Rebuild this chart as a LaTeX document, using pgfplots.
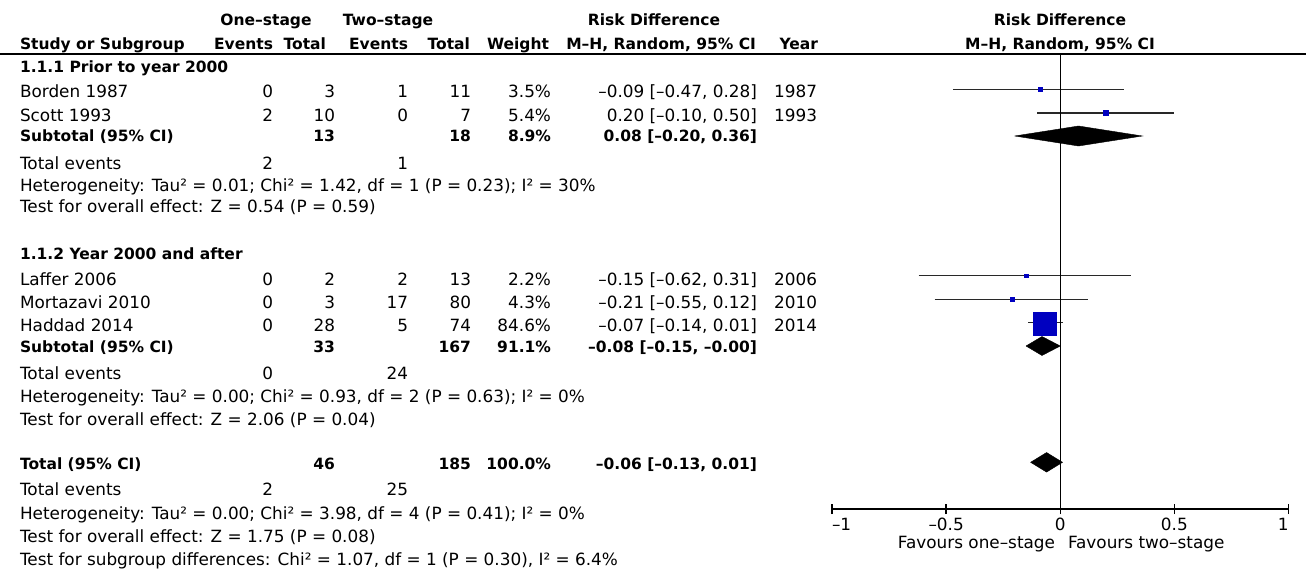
\documentclass[border=0pt]{standalone}
\usepackage{fontspec}
\setmainfont{DejaVu Sans}
\usepackage{pgfplots}
\pgfplotsset{compat=1.18}
\definecolor{sq}{RGB}{0,0,192}
\definecolor{ci}{RGB}{40,40,40}
\newcommand{\B}{\fontsize{15.5bp}{18bp}\selectfont\bfseries}
\newcommand{\Rt}[3]{\node[anchor=base east] at (#1,#2) {#3};}
\newcommand{\Lt}[3]{\node[anchor=base west] at (#1,#2) {#3};}
\newcommand{\Ct}[3]{\node[anchor=base] at (#1,#2) {#3};}
\begin{document}
\begin{tikzpicture}[every node/.style={inner sep=0pt, outer sep=0pt, font=\fontsize{16.85bp}{19bp}\selectfont}]
\useasboundingbox (0,0) rectangle (1306bp,-571bp);
\begin{axis}[
  at={(832bp,-509bp)}, anchor=south west,
  width=456.5bp, height=455bp, scale only axis,
  xmin=-1, xmax=1, ymin=62, ymax=517,
  axis x line=bottom, axis y line=none,
  axis line style={-, line width=1.3bp, black},
  xtick={-1,-0.5,0,0.5,1},
  xticklabels={\makebox[0pt][l]{–1},–0.5,0,0.5,\makebox[0pt][r]{1}},
  tick align=center, major tick length=10bp,
  tick style={black, line width=1.3bp},
  xticklabel style={anchor=base, yshift=-16bp},
  clip=false,
]
% confidence intervals
\addplot[ci, line width=1.3bp] coordinates {(-0.47,481.7) (0.28,481.7)};
\addplot[ci, line width=1.3bp] coordinates {(-0.10,458) (0.50,458)};
\addplot[ci, line width=1.3bp] coordinates {(-0.62,295.3) (0.31,295.3)};
\addplot[ci, line width=1.3bp] coordinates {(-0.55,271.7) (0.12,271.7)};
\addplot[ci, line width=1.3bp] coordinates {(-0.14,248.7) (0.01,248.7)};
% line of no effect
\addplot[black, line width=1.3bp] coordinates {(0,62) (0,517)};
% study squares
\addplot[only marks, mark=square*, mark size=2bp, sq] coordinates {(-0.09,481.7)};
\addplot[only marks, mark=square*, mark size=2.4bp, sq] coordinates {(0.20,458)};
\addplot[only marks, mark=square*, mark size=1.8bp, sq] coordinates {(-0.15,295.3)};
\addplot[only marks, mark=square*, mark size=2.1bp, sq] coordinates {(-0.21,271.7)};
\addplot[only marks, mark=square*, mark size=11.5bp, sq] coordinates {(-0.07,247.5)};
% diamonds
\addplot[black, fill=black] coordinates {(-0.20,435) (0.08,445) (0.36,435) (0.08,425) (-0.20,435)};
\addplot[black, fill=black] coordinates {(-0.15,225) (-0.08,234.5) (0.00,225) (-0.08,215.5) (-0.15,225)};
\addplot[black, fill=black] coordinates {(-0.13,108.7) (-0.06,118.5) (0.01,108.7) (-0.06,98.9) (-0.13,108.7)};
\end{axis}
\begin{scope}[x=1bp,y=-1bp]
\draw[line width=1.3bp] (0,54) -- (1306,54);
% header
\Ct{266}{25}{\B One–stage}
\Ct{388}{25}{\B Two–stage}
\Ct{654}{25}{\B Risk Difference}
\Ct{1060}{25}{\B Risk Difference}
\Lt{20}{49}{\B Study or Subgroup}
\Rt{273}{49}{\B Events}
\Rt{326}{49}{\B Total}
\Rt{408}{49}{\B Events}
\Rt{470}{49}{\B Total}
\Rt{549}{49}{\B Weight}
\Rt{756}{49}{\B M–H, Random, 95\% CI}
\Rt{818}{49}{\B Year}
\Ct{1060}{49}{\B M–H, Random, 95\% CI}
% group 1
\Lt{20}{72}{\B 1.1.1 Prior to year 2000}
\Lt{20}{97}{Borden 1987}\Rt{273}{97}{0}\Rt{335}{97}{3}\Rt{408}{97}{1}\Rt{471}{97}{11}\Rt{551}{97}{3.5\%}\Rt{757}{97}{–0.09 [–0.47, 0.28]}\Rt{817}{97}{1987}
\Lt{20}{121}{Scott 1993}\Rt{273}{121}{2}\Rt{335}{121}{10}\Rt{408}{121}{0}\Rt{471}{121}{7}\Rt{551}{121}{5.4\%}\Rt{757}{121}{0.20 [–0.10, 0.50]}\Rt{817}{121}{1993}
\Lt{20}{141.5}{\B Subtotal (95\% CI)}\Rt{335}{141.5}{\B 13}\Rt{471}{141.5}{\B 18}\Rt{551}{141.5}{\B 8.9\%}\Rt{757}{141.5}{\B 0.08 [–0.20, 0.36]}
\Lt{20}{169}{Total events}\Rt{273}{169}{2}\Rt{408}{169}{1}
\Lt{20}{191}{Heterogeneity: Tau² = 0.01; Chi² = 1.42, df = 1 (P = 0.23); I² = 30\%}
\Lt{20}{212.5}{Test for overall effect: Z = 0.54 (P = 0.59)}
% group 2
\Lt{20}{259}{\B 1.1.2 Year 2000 and after}
\Lt{20}{285.5}{Laffer 2006}\Rt{273}{285.5}{0}\Rt{335}{285.5}{2}\Rt{408}{285.5}{2}\Rt{471}{285.5}{13}\Rt{551}{285.5}{2.2\%}\Rt{757}{285.5}{–0.15 [–0.62, 0.31]}\Rt{817}{285.5}{2006}
\Lt{20}{308.5}{Mortazavi 2010}\Rt{273}{308.5}{0}\Rt{335}{308.5}{3}\Rt{408}{308.5}{17}\Rt{471}{308.5}{80}\Rt{551}{308.5}{4.3\%}\Rt{757}{308.5}{–0.21 [–0.55, 0.12]}\Rt{817}{308.5}{2010}
\Lt{20}{331.5}{Haddad 2014}\Rt{273}{331.5}{0}\Rt{335}{331.5}{28}\Rt{408}{331.5}{5}\Rt{471}{331.5}{74}\Rt{551}{331.5}{84.6\%}\Rt{757}{331.5}{–0.07 [–0.14, 0.01]}\Rt{817}{331.5}{2014}
\Lt{20}{352.5}{\B Subtotal (95\% CI)}\Rt{335}{352.5}{\B 33}\Rt{471}{352.5}{\B 167}\Rt{551}{352.5}{\B 91.1\%}\Rt{757}{352.5}{\B –0.08 [–0.15, –0.00]}
\Lt{20}{379}{Total events}\Rt{273}{379}{0}\Rt{408}{379}{24}
\Lt{20}{402}{Heterogeneity: Tau² = 0.00; Chi² = 0.93, df = 2 (P = 0.63); I² = 0\%}
\Lt{20}{425}{Test for overall effect: Z = 2.06 (P = 0.04)}
% total
\Lt{20}{469}{\B Total (95\% CI)}\Rt{335}{469}{\B 46}\Rt{471}{469}{\B 185}\Rt{551}{469}{\B 100.0\%}\Rt{757}{469}{\B –0.06 [–0.13, 0.01]}
\Lt{20}{495.5}{Total events}\Rt{273}{495.5}{2}\Rt{408}{495.5}{25}
\Lt{20}{519}{Heterogeneity: Tau² = 0.00; Chi² = 3.98, df = 4 (P = 0.41); I² = 0\%}
\Lt{20}{542}{Test for overall effect: Z = 1.75 (P = 0.08)}
\Lt{20}{565}{Test for subgroup differences: Chi² = 1.07, df = 1 (P = 0.30), I² = 6.4\%}
% favours
\Rt{1055}{548}{Favours one–stage}
\Lt{1068}{548}{Favours two–stage}
\end{scope}
\end{tikzpicture}
\end{document}
